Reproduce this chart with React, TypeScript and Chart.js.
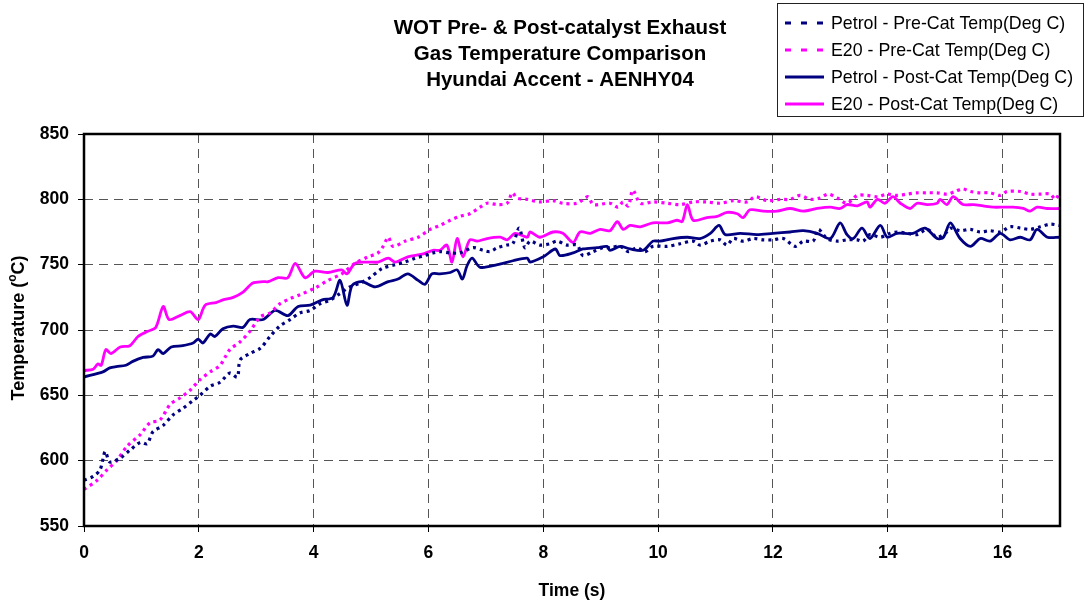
import React, { useEffect, useRef } from "react";
import { Chart, registerables } from "chart.js";

Chart.register(...registerables);

const titleLines = [
  "WOT Pre- & Post-catalyst Exhaust",
  "Gas Temperature Comparison",
  "Hyundai Accent - AENHY04",
];
const seriesNames = [
  "Petrol - Pre-Cat Temp(Deg C)",
  "E20 - Pre-Cat Temp(Deg C)",
  "Petrol - Post-Cat Temp(Deg C)",
  "E20 - Post-Cat Temp(Deg C)",
];
const xTitle = "Time (s)";
const yTitleMain = "Temperature (";
const yTitleSup = "o";
const yTitleEnd = "C)";

// [time (s), temperature (deg C)]
const petrolPreCat: [number, number][] = [
  [0, 585], [0.16, 588], [0.28, 593], [0.37, 607], [0.45, 599], [0.63, 602], [0.8, 608],
  [0.98, 614], [1.1, 613], [1.2, 622], [1.38, 627], [1.55, 635], [1.72, 640], [1.9, 646],
  [2.02, 650], [2.2, 657], [2.37, 660], [2.54, 667], [2.67, 664], [2.72, 677], [2.89, 682],
  [3.07, 686], [3.24, 695], [3.41, 703], [3.59, 708], [3.76, 713], [3.94, 715], [4.11, 720],
  [4.29, 723], [4.46, 728], [4.63, 733], [4.81, 736], [4.98, 740], [5.19, 747], [5.42, 750],
  [5.59, 752], [5.77, 755], [5.94, 757], [6.08, 759], [6.2, 760], [6.38, 759], [6.55, 759],
  [6.78, 763], [6.95, 761], [7.07, 760], [7.2, 763], [7.37, 765], [7.47, 766], [7.58, 778],
  [7.68, 763], [7.77, 768], [7.94, 765], [8.12, 766], [8.24, 768], [8.41, 765], [8.59, 765],
  [8.69, 757], [8.87, 760], [9.04, 763], [9.16, 763], [9.34, 764], [9.48, 760], [9.63, 763],
  [9.77, 760], [9.91, 764], [10.16, 764], [10.38, 766], [10.61, 768], [10.73, 765], [10.91, 768],
  [11.08, 769], [11.2, 765], [11.31, 770], [11.48, 768], [11.66, 770], [11.83, 769], [12.0, 769],
  [12.18, 770], [12.39, 764], [12.53, 768], [12.7, 768], [12.79, 777], [12.94, 770], [13.12, 768],
  [13.29, 769], [13.47, 769], [13.57, 768], [13.69, 773], [13.87, 771], [14.04, 774], [14.16, 775],
  [14.34, 774], [14.51, 773], [14.69, 777], [14.86, 771], [15.03, 775], [15.09, 778], [15.26, 776],
  [15.44, 777], [15.61, 775], [15.78, 776], [15.96, 775], [16.13, 779], [16.31, 778], [16.48, 777],
  [16.66, 779], [16.83, 781], [17.0, 780],
];

const e20PreCat: [number, number][] = [
  [0, 578], [0.23, 585], [0.4, 593], [0.57, 600], [0.75, 611], [0.98, 620], [1.15, 629],
  [1.32, 631], [1.5, 643], [1.67, 648], [1.85, 654], [2.02, 662], [2.2, 668], [2.37, 673],
  [2.54, 685], [2.72, 691], [2.89, 699], [3.07, 710], [3.24, 713], [3.41, 720], [3.59, 724],
  [3.76, 727], [4.02, 732], [4.25, 738], [4.49, 743], [4.72, 751], [4.95, 756], [5.12, 759],
  [5.21, 764], [5.3, 771], [5.38, 764], [5.59, 768], [5.82, 771], [6.03, 777], [6.2, 780],
  [6.38, 784], [6.55, 787], [6.72, 789], [6.9, 794], [7.02, 797], [7.2, 796], [7.37, 797],
  [7.46, 805], [7.54, 801], [7.72, 800], [7.94, 798], [8.17, 799], [8.34, 797], [8.59, 797],
  [8.78, 802], [8.87, 796], [9.16, 797], [9.3, 794], [9.39, 798], [9.48, 795], [9.56, 807],
  [9.69, 797], [9.91, 798], [10.16, 797], [10.38, 796], [10.61, 798], [10.85, 798], [11.08, 797],
  [11.31, 799], [11.55, 798], [11.69, 802], [11.9, 799], [12.13, 800], [12.3, 800], [12.47, 803],
  [12.65, 800], [12.82, 801], [12.96, 804], [13.12, 801], [13.29, 797], [13.47, 803], [13.64, 803],
  [13.82, 802], [13.99, 804], [14.16, 803], [14.34, 804], [14.51, 805], [14.69, 805], [14.86, 805],
  [15.03, 804], [15.17, 806], [15.3, 808], [15.44, 806], [15.61, 805], [15.78, 805], [15.96, 803],
  [16.08, 806], [16.31, 806], [16.48, 804], [16.66, 804], [16.83, 804], [16.92, 800], [17.0, 806],
];

const petrolPostCat: [number, number][] = [
  [0, 664], [0.33, 668], [0.45, 671], [0.56, 672], [0.73, 673], [0.85, 676], [1.03, 679],
  [1.2, 680], [1.29, 685], [1.38, 682], [1.52, 687], [1.72, 688], [1.9, 690], [1.99, 693],
  [2.07, 690], [2.2, 697], [2.28, 695], [2.42, 701], [2.6, 703], [2.77, 702], [2.89, 708],
  [3.12, 708], [3.33, 715], [3.55, 711], [3.73, 718], [3.94, 719], [4.15, 723], [4.34, 725],
  [4.46, 738], [4.58, 719], [4.67, 734], [4.84, 737], [5.07, 733], [5.3, 737], [5.47, 739],
  [5.64, 743], [5.82, 738], [5.94, 735], [6.06, 743], [6.2, 743], [6.38, 744], [6.5, 746],
  [6.59, 739], [6.67, 749], [6.76, 755], [6.9, 748], [7.2, 750], [7.47, 753], [7.72, 755],
  [7.77, 752], [8.0, 756], [8.21, 762], [8.29, 757], [8.52, 759], [8.69, 762], [8.94, 763],
  [9.11, 764], [9.16, 761], [9.34, 764], [9.51, 762], [9.74, 761], [9.91, 768], [10.03, 768],
  [10.26, 770], [10.51, 771], [10.73, 770], [10.91, 774], [11.06, 780], [11.17, 773], [11.43, 774],
  [11.72, 773], [12.0, 774], [12.3, 775], [12.53, 776], [12.77, 774], [13.0, 770], [13.17, 782],
  [13.29, 773], [13.4, 770], [13.55, 778], [13.69, 770], [13.87, 780], [13.99, 771], [14.16, 774],
  [14.44, 774], [14.65, 778], [14.86, 770], [14.97, 771], [15.09, 782], [15.26, 770], [15.44, 764],
  [15.61, 770], [15.78, 768], [15.96, 774], [16.13, 769], [16.31, 771], [16.48, 769], [16.6, 777],
  [16.78, 771], [17.0, 771],
];

const e20PostCat: [number, number][] = [
  [0, 669], [0.16, 670], [0.24, 674], [0.3, 673], [0.38, 685], [0.47, 682], [0.63, 687],
  [0.8, 688], [0.94, 695], [1.11, 699], [1.25, 702], [1.38, 718], [1.48, 708], [1.67, 711],
  [1.85, 714], [1.99, 708], [2.11, 719], [2.3, 721], [2.42, 723], [2.6, 725], [2.77, 729],
  [2.94, 736], [3.12, 737], [3.21, 737], [3.38, 740], [3.55, 740], [3.68, 751], [3.85, 740],
  [4.02, 745], [4.25, 744], [4.49, 746], [4.58, 743], [4.72, 751], [4.95, 752], [5.12, 752],
  [5.3, 755], [5.42, 752], [5.64, 756], [5.89, 758], [6.08, 761], [6.2, 761], [6.32, 765],
  [6.41, 752], [6.5, 770], [6.6, 756], [6.72, 769], [6.85, 768], [7.02, 770], [7.25, 771],
  [7.37, 769], [7.51, 774], [7.72, 771], [7.77, 775], [7.94, 771], [8.17, 775], [8.34, 774],
  [8.52, 767], [8.64, 775], [8.82, 774], [8.99, 777], [9.16, 776], [9.29, 783], [9.39, 777],
  [9.51, 780], [9.69, 779], [9.91, 782], [10.16, 782], [10.33, 784], [10.42, 783], [10.51, 796],
  [10.61, 784], [10.85, 786], [11.03, 787], [11.2, 790], [11.38, 789], [11.48, 786], [11.6, 792],
  [11.83, 791], [12.07, 791], [12.3, 793], [12.53, 791], [12.77, 793], [13.0, 794], [13.17, 793],
  [13.29, 796], [13.47, 795], [13.64, 798], [13.69, 794], [13.82, 800], [13.95, 797], [14.09, 802],
  [14.22, 797], [14.39, 793], [14.51, 797], [14.69, 796], [14.86, 797], [14.91, 800], [15.03, 796],
  [15.14, 802], [15.31, 796], [15.49, 796], [15.66, 795], [15.84, 794], [16.01, 794], [16.18, 794],
  [16.36, 793], [16.48, 791], [16.6, 794], [16.78, 793], [17.0, 793],
];

const xMin = 0;
const xMax = 17;
const xStep = 2;
const yMin = 550;
const yMax = 850;
const yStep = 50;

const NAVY = "#000080";
const MAGENTA = "#FF00FF";
const FONT = "'Liberation Sans', Arial, Helvetica, sans-serif";

const seriesData = [petrolPreCat, e20PreCat, petrolPostCat, e20PostCat];
const seriesColors = [NAVY, MAGENTA, NAVY, MAGENTA];
const seriesDashed = [true, true, false, false];

const decorPlugin = {
  id: "decor",
  afterDraw(chart: any) {
    const ctx = chart.ctx as CanvasRenderingContext2D;
    const a = chart.chartArea;
    ctx.save();
    // plot frame
    ctx.strokeStyle = "#000";
    ctx.lineWidth = 2.5;
    ctx.setLineDash([]);
    ctx.strokeRect(a.left, a.top, a.right - a.left, a.bottom - a.top);

    // title
    ctx.fillStyle = "#000";
    ctx.font = `bold 20.5px ${FONT}`;
    ctx.textAlign = "center";
    ctx.textBaseline = "middle";
    titleLines.forEach((t, i) => ctx.fillText(t, 560, 28 + i * 26));

    // x title
    ctx.font = `bold 17.5px ${FONT}`;
    ctx.fillText(xTitle, (a.left + a.right) / 2, 591);

    // y title with superscript
    ctx.save();
    ctx.translate(19, (a.top + a.bottom) / 2 - 2);
    ctx.rotate(-Math.PI / 2);
    ctx.font = `bold 18px ${FONT}`;
    const w1 = ctx.measureText(yTitleMain).width;
    const w3 = ctx.measureText(yTitleEnd).width;
    ctx.font = `bold 12px ${FONT}`;
    const w2 = ctx.measureText(yTitleSup).width;
    const total = w1 + w2 + w3;
    let x0 = -total / 2;
    ctx.textAlign = "left";
    ctx.font = `bold 18px ${FONT}`;
    ctx.fillText(yTitleMain, x0, 0);
    x0 += w1;
    ctx.font = `bold 12px ${FONT}`;
    ctx.fillText(yTitleSup, x0, -6);
    x0 += w2;
    ctx.font = `bold 18px ${FONT}`;
    ctx.fillText(yTitleEnd, x0, 0);
    ctx.restore();

    // legend
    ctx.strokeStyle = "#222";
    ctx.lineWidth = 1;
    ctx.strokeRect(777.5, 3.5, 306, 113);
    ctx.font = `17.8px ${FONT}`;
    ctx.textAlign = "left";
    ctx.textBaseline = "middle";
    seriesNames.forEach((name, i) => {
      const y = 23 + i * 27;
      ctx.beginPath();
      ctx.strokeStyle = seriesColors[i];
      ctx.lineWidth = 3;
      ctx.setLineDash(seriesDashed[i] ? [6, 10] : []);
      ctx.moveTo(785, y);
      ctx.lineTo(824, y);
      ctx.stroke();
      ctx.setLineDash([]);
      ctx.fillStyle = "#000";
      ctx.fillText(name, 831, y + 1);
    });
    ctx.restore();
  },
};

export default function App() {
  const canvasRef = useRef<HTMLCanvasElement | null>(null);

  useEffect(() => {
    document.body.style.margin = "0";
    const canvas = canvasRef.current;
    if (!canvas) return;
    const chart = new Chart(canvas, {
      type: "line",
      data: {
        datasets: seriesData.map((s, i) => ({
          label: seriesNames[i],
          data: s.map(([t, v]) => ({ x: t, y: v })),
          borderColor: seriesColors[i],
          backgroundColor: seriesColors[i],
          borderWidth: seriesDashed[i] ? 3.2 : 2.8,
          borderDash: seriesDashed[i] ? [3, 4] : [],
          pointRadius: 0,
          tension: 0.3,
          fill: false,
        })),
      },
      options: {
        animation: false,
        responsive: true,
        maintainAspectRatio: false,
        layout: { padding: { top: 134, right: 26, left: 0, bottom: 0 } },
        plugins: {
          legend: { display: false },
          title: { display: false },
          tooltip: { enabled: false },
        },
        scales: {
          x: {
            type: "linear",
            min: xMin,
            max: xMax,
            afterFit: (scale: any) => {
              scale.height = 80;
            },
            ticks: {
              stepSize: xStep,
              includeBounds: false,
              color: "#000",
              font: { family: FONT, size: 17.5, weight: "bold" },
              padding: 11,
              maxRotation: 0,
            },
            grid: {
              color: "#555",
              lineWidth: 1,
              tickLength: 6,
              tickColor: "#000",
              tickBorderDash: [],
            },
            border: { display: false, dash: [9, 6] },
          },
          y: {
            type: "linear",
            min: yMin,
            max: yMax,
            afterFit: (scale: any) => {
              scale.width = 84;
            },
            ticks: {
              stepSize: yStep,
              color: "#000",
              font: { family: FONT, size: 17.5, weight: "bold" },
              padding: 9,
            },
            grid: {
              color: "#555",
              lineWidth: 1,
              tickLength: 6,
              tickColor: "#000",
              tickBorderDash: [],
            },
            border: { display: false, dash: [9, 6] },
          },
        },
      },
      plugins: [decorPlugin],
    });
    return () => chart.destroy();
  }, []);

  return (
    <div style={{ position: "absolute", left: 0, top: 0, width: 1086, height: 606 }}>
      <canvas ref={canvasRef} />
    </div>
  );
}
